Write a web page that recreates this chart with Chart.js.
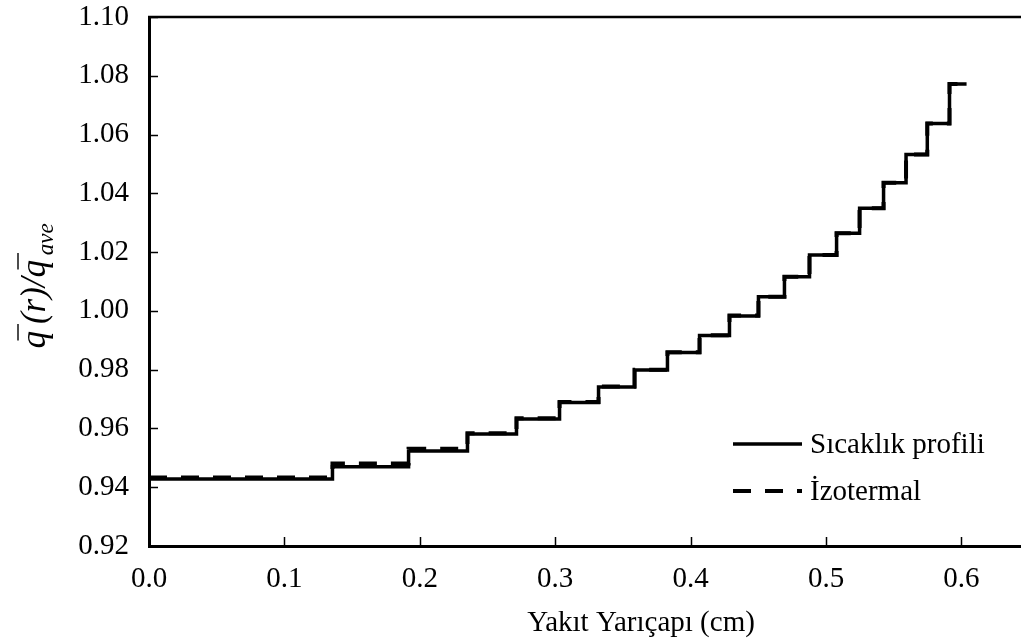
<!DOCTYPE html>
<html>
<head>
<meta charset="utf-8">
<script src="https://cdn.jsdelivr.net/npm/chart.js@4.4.1/dist/chart.umd.min.js"></script>
<style>
  html, body { margin: 0; padding: 0; background: #fff; overflow: hidden; }
</style>
</head>
<body>
<canvas id="stepChart" width="1021" height="640"></canvas>
<script>
// ring boundaries (cm), 20 rings -> 21 edges
const radiusEdges = [0, 0.1355, 0.1917, 0.2352, 0.2714, 0.3032, 0.3320, 0.3586, 0.3829, 0.4066,
  0.4287, 0.4501, 0.4693, 0.4878, 0.5078, 0.5248, 0.5425, 0.5591, 0.5748, 0.5912, 0.6038];
// power ratio in each ring
const profileLevels = [0.9428, 0.9470, 0.9523, 0.9581, 0.9632, 0.9688, 0.9741, 0.9799, 0.9858, 0.9916,
  0.9983, 1.0048, 1.0116, 1.0190, 1.0264, 1.0349, 1.0436, 1.0532, 1.0638, 1.0772];
const isothermalLevels = [0.9433, 0.9481, 0.9531, 0.9584, 0.9635, 0.9690, 0.9743, 0.9800, 0.9859, 0.9917,
  0.9984, 1.0048, 1.0116, 1.0190, 1.0264, 1.0349, 1.0436, 1.0532, 1.0638, 1.0772];
const seriesNames = ["Sıcaklık profili", "İzotermal"];
const xTickValues = [0, 0.1, 0.2, 0.3, 0.4, 0.5, 0.6];
const yTickValues = [0.92, 0.94, 0.96, 0.98, 1.00, 1.02, 1.04, 1.06, 1.08, 1.10];

const FONT = "'Liberation Serif', 'Times New Roman', serif";

function stepPoints(levels) {
  // each level holds from its left edge to the next edge
  const pts = [];
  levels.forEach((y, i) => {
    pts.push({ x: radiusEdges[i], y });
  });
  pts.push({ x: radiusEdges[radiusEdges.length - 1], y: levels[levels.length - 1] });
  return pts;
}

const frameAndText = {
  id: "frameAndText",
  afterDraw(chart) {
    const { ctx, chartArea: a, scales } = chart;
    ctx.save();
    ctx.strokeStyle = "#000";
    // top frame line
    ctx.lineWidth = 2.5;
    ctx.beginPath();
    ctx.moveTo(a.left - 1, a.top);
    ctx.lineTo(a.right, a.top);
    ctx.stroke();
    // inner tick marks
    ctx.lineWidth = 1.5;
    scales.x.ticks.forEach((t) => {
      if (t.value === 0) return;
      const px = Math.round(scales.x.getPixelForValue(t.value)) + 0.5;
      ctx.beginPath();
      ctx.moveTo(px, a.bottom);
      ctx.lineTo(px, a.bottom - 9);
      ctx.stroke();
    });
    scales.y.ticks.forEach((t) => {
      const py = Math.round(scales.y.getPixelForValue(t.value)) + 0.5;
      ctx.beginPath();
      ctx.moveTo(a.left, py);
      ctx.lineTo(a.left + 9, py);
      ctx.stroke();
    });

    // legend
    ctx.fillStyle = "#000";
    ctx.textBaseline = "middle";
    ctx.textAlign = "left";
    ctx.font = "29px " + FONT;
    chart.data.datasets.forEach((ds, i) => {
      const y = 444 + i * 47;
      ctx.save();
      ctx.lineWidth = ds.borderWidth;
      ctx.setLineDash(ds.borderDash || []);
      ctx.beginPath();
      ctx.moveTo(733, y);
      ctx.lineTo(802, y);
      ctx.stroke();
      ctx.restore();
      ctx.fillText(ds.label, 810, y + 1);
    });

    // x axis title
    ctx.textAlign = "center";
    ctx.textBaseline = "alphabetic";
    ctx.fillText("Yakıt Yarıçapı (cm)", 641, 631);

    // y axis title: q(r)/q_ave with overbars
    ctx.translate(45, 286);
    ctx.rotate(-Math.PI / 2);
    const big = "italic 35px " + FONT;
    const small = "italic 23px " + FONT;
    const parts = [
      { t: "q", f: big, dy: 0, bar: true },
      { t: "\u2009(r)/", f: big, dy: 0 },
      { t: "q", f: big, dy: 0, bar: true },
      { t: "\u2009ave", f: small, dy: 8 },
    ];
    let total = 0;
    parts.forEach((p) => { ctx.font = p.f; p.w = ctx.measureText(p.t).width; total += p.w; });
    let x = -total / 2;
    ctx.textAlign = "left";
    ctx.lineWidth = 1.4;
    parts.forEach((p) => {
      ctx.font = p.f;
      ctx.fillText(p.t, x, p.dy);
      if (p.bar) {
        ctx.beginPath();
        ctx.moveTo(x + 8, -27);
        ctx.lineTo(x + p.w + 7, -27);
        ctx.stroke();
      }
      x += p.w;
    });
    ctx.restore();
  },
};

new Chart(document.getElementById("stepChart"), {
  type: "line",
  data: {
    datasets: [
      { label: seriesNames[0], data: stepPoints(profileLevels), stepped: "before", borderColor: "#000", borderWidth: 3.5, pointRadius: 0, fill: false },
      { label: seriesNames[1], data: stepPoints(isothermalLevels), stepped: "before", borderColor: "#000", borderWidth: 4, borderDash: [18, 14], pointRadius: 0, fill: false },
    ],
  },
  options: {
    responsive: false,
    animation: false,
    devicePixelRatio: 1,
    layout: { padding: { top: 17, right: 0, left: 0, bottom: 0 } },
    plugins: { legend: { display: false }, tooltip: { enabled: false } },
    scales: {
      x: {
        type: "linear",
        min: 0,
        max: 0.644,
        afterBuildTicks: (s) => { s.ticks = xTickValues.map((v) => ({ value: v })); },
        afterFit: (s) => { s.height = 94; s.paddingLeft = 0; s.paddingRight = 0; },
        grid: { display: false },
        border: { display: true, color: "#000", width: 3 },
        ticks: { color: "#000", font: { family: FONT, size: 29 }, padding: 8, maxRotation: 0, callback: (v) => Number(v).toFixed(1) },
      },
      y: {
        type: "linear",
        min: 0.92,
        max: 1.10,
        afterBuildTicks: (s) => { s.ticks = yTickValues.map((v) => ({ value: v })); },
        afterFit: (s) => { s.width = 149; s.paddingTop = 0; s.paddingBottom = 0; },
        grid: { display: false },
        border: { display: true, color: "#000", width: 3 },
        ticks: { color: "#000", font: { family: FONT, size: 29 }, padding: 12, callback: (v) => Number(v).toFixed(2) },
      },
    },
  },
  plugins: [frameAndText],
});
</script>
</body>
</html>
